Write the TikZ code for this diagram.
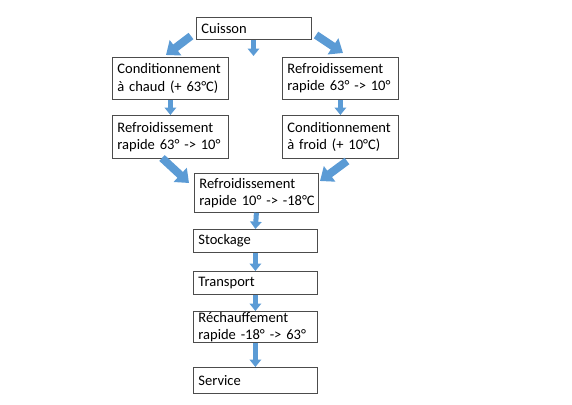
\documentclass[tikz,border=0pt]{standalone}
\usepackage{fontspec}
\setmainfont{Carlito}
\usetikzlibrary{arrows.meta}
\definecolor{arrowblue}{HTML}{5B9BD5}
\tikzset{
  box/.style={draw=black!70, line width=0.6pt, fill=white, anchor=north west,
    inner xsep=3.75pt, inner ysep=0pt, align=left,
    font=\fontsize{10.9}{13}\selectfont},
  bigarrow/.style={draw=arrowblue, line width=6pt,
    -{Triangle[width=14pt,length=9pt]}},
  smallarrow/.style={draw=arrowblue, line width=3.75pt,
    -{Triangle[width=8.5pt,length=5.5pt]}}
}
\begin{document}
\begin{tikzpicture}[x=0.75pt,y=-0.75pt]
\useasboundingbox (0,0) rectangle (572,404);
\node[box, text width=78.75pt, minimum height=16.5pt] (cuisson) at (196,17) {Cuisson};
\node[box, text width=79.5pt, minimum height=31.5pt] (condchaud) at (112,57) {\mbox{Conditionnement}\\\mbox{à chaud (+ 63°C)}};
\node[box, text width=79.5pt, minimum height=31.5pt] (refr1) at (282,57) {\mbox{Refroidissement}\\\mbox{rapide 63° -> 10°}};
\node[box, text width=79.5pt, minimum height=32.25pt] (refr2) at (112,115) {\mbox{Refroidissement}\\\mbox{rapide 63° -> 10°}};
\node[box, text width=79.5pt, minimum height=32.25pt] (condfroid) at (282,115) {\mbox{Conditionnement}\\\mbox{à froid (+ 10°C)}};
\node[box, text width=85.5pt, minimum height=29.25pt] (refr3) at (194,173) {\mbox{Refroidissement}\\\mbox{rapide 10° -> -18°C}};
\node[box, text width=85.5pt, minimum height=17.25pt] (stock) at (193,229) {Stockage};
\node[box, text width=85.5pt, minimum height=17.25pt] (transp) at (193,271) {Transport};
\node[box, text width=85.5pt, minimum height=23.25pt] (rechauf) at (193,311) {\mbox{Réchauffement}\\\mbox{rapide -18° -> 63°}};
\node[box, text width=85.5pt, minimum height=19.5pt] (service) at (193,367) {Service};

\coordinate (a1s) at (191,36);
\coordinate (a1e) at (166,55);
\coordinate (a2s) at (316,35);
\coordinate (a2e) at (343,53);
\coordinate (a3s) at (162,158);
\coordinate (a3e) at (189,183);
\coordinate (a4s) at (347,161);
\coordinate (a4e) at (320,181);
\coordinate (mide) at (253.5,56);

\draw[bigarrow] (a1s) -- (a1e);
\draw[bigarrow] (a2s) -- (a2e);
\draw[bigarrow] (a3s) -- (a3e);
\draw[bigarrow] (a4s) -- (a4e);
\draw[smallarrow] (cuisson.south -| mide) -- (mide);
\draw[smallarrow] (condchaud.south) -- (refr2.north);
\draw[smallarrow] (refr1.south) -- (condfroid.north);
\draw[smallarrow] (refr3.south) -- (stock.north);
\draw[smallarrow] (stock.south) -- (transp.north);
\draw[smallarrow] (transp.south) -- (rechauf.north);
\draw[smallarrow] (rechauf.south) -- (service.north);
\end{tikzpicture}
\end{document}
